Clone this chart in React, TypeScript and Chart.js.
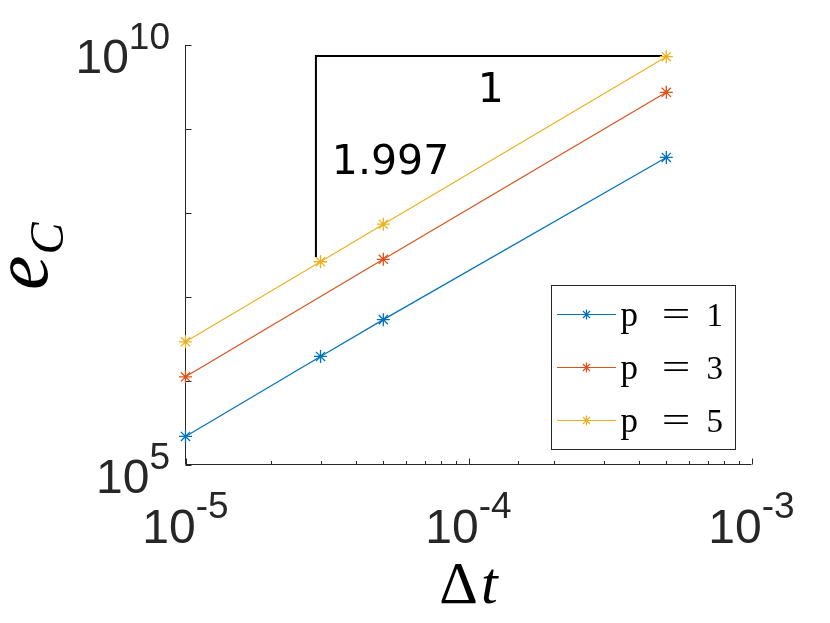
import { useEffect, useRef } from 'react';
import { Chart, registerables } from 'chart.js';

Chart.register(...registerables);

// ---- data ----
const dtValues = [1e-5, 3e-5, 5e-5, 5e-4];
const errP1 = [2.16e5, 1.94e6, 5.33e6, 4.57e8];
const errP3 = [1.11e6, null, 2.79e7, 2.73e9];
const errP5 = [2.9e6, 2.61e7, 7.31e7, 7.25e9];
const seriesNames = ['1', '3', '5'];
const seriesColors = ['#0072BD', '#D95319', '#EDB120'];

// slope triangle (data coordinates)
const triangleDt = [2.89e-5, 2.89e-5, 4.83e-4];
const triangleErr = [2.98e7, 7.39e9, 7.39e9];
const runLabel = '1';
const runLabelPos = [1.2e-4, 2.1e9];
const riseLabel = '1.997';
const riseLabelPos = [3.29e-5, 2.94e8];

// axes
const xRange = [1e-5, 1e-3];
const yRange = [1e5, 1e10];
const xTickValues = [1e-5, 1e-4, 1e-3];
const xTickExponents = ['-5', '-4', '-3'];
const yTickValues = [1e5, 1e10];
const yTickExponents = ['5', '10'];

const AXIS_COLOR = '#262626';

function isDecade(v: number) {
  const l = Math.log10(v);
  return Math.abs(l - Math.round(l)) < 1e-6;
}

function drawStar(ctx: CanvasRenderingContext2D, cx: number, cy: number, r: number) {
  const d = r * Math.SQRT1_2;
  ctx.beginPath();
  ctx.moveTo(cx - r, cy);
  ctx.lineTo(cx + r, cy);
  ctx.moveTo(cx, cy - r);
  ctx.lineTo(cx, cy + r);
  ctx.moveTo(cx - d, cy - d);
  ctx.lineTo(cx + d, cy + d);
  ctx.moveTo(cx - d, cy + d);
  ctx.lineTo(cx + d, cy - d);
  ctx.stroke();
}

const decorPlugin = {
  id: 'decor',
  beforeDatasetsDraw(chart: any) {
    const { ctx, chartArea, scales } = chart;
    const { left, right, top, bottom } = chartArea;
    const x = scales.x;
    const y = scales.y;
    ctx.save();
    ctx.strokeStyle = AXIS_COLOR;
    ctx.lineWidth = 1;
    ctx.beginPath();
    ctx.moveTo(left, top);
    ctx.lineTo(left, bottom);
    ctx.lineTo(right, bottom);
    x.ticks.forEach((t: any) => {
      const px = Math.round(x.getPixelForValue(t.value)) + 0.5;
      const len = isDecade(t.value) ? 6 : 3.5;
      ctx.moveTo(px, bottom);
      ctx.lineTo(px, bottom - len);
    });
    y.ticks.forEach((t: any) => {
      if (!isDecade(t.value)) return;
      const py = Math.round(y.getPixelForValue(t.value)) + 0.5;
      ctx.moveTo(left, py);
      ctx.lineTo(left + 6, py);
    });
    ctx.stroke();
    ctx.restore();
  },
  afterDraw(chart: any) {
    const { ctx, chartArea, scales } = chart;
    const x = scales.x;
    const y = scales.y;
    const baseFont = '48px "Liberation Sans", Arial, sans-serif';
    const supFont = '37px "Liberation Sans", Arial, sans-serif';
    const measure = (t: string, f: string) => {
      ctx.font = f;
      return ctx.measureText(t).width;
    };
    ctx.save();
    ctx.fillStyle = AXIS_COLOR;
    ctx.textBaseline = 'alphabetic';
    ctx.textAlign = 'left';

    // x tick labels
    xTickValues.forEach((v, i) => {
      const px = x.getPixelForValue(v);
      const wb = measure('10', baseFont);
      const ws = measure(xTickExponents[i], supFont);
      const start = px - (wb + ws) / 2;
      ctx.font = baseFont;
      ctx.fillText('10', start, chartArea.bottom + 78.5);
      ctx.font = supFont;
      ctx.fillText(xTickExponents[i], start + wb, chartArea.bottom + 53.5);
    });

    // y tick labels
    yTickValues.forEach((v, i) => {
      const py = y.getPixelForValue(v);
      const wb = measure('10', baseFont);
      const ws = measure(yTickExponents[i], supFont);
      const end = chartArea.left - 15.5;
      ctx.font = baseFont;
      ctx.fillText('10', end - ws - wb, py + 28);
      ctx.font = supFont;
      ctx.fillText(yTickExponents[i], end - ws, py + 4);
    });

    // x axis title: Δt
    ctx.fillStyle = '#000';
    const cx = (chartArea.left + chartArea.right) / 2;
    ctx.font = '60px "Liberation Serif", serif';
    const wD = ctx.measureText('Δ').width;
    ctx.font = 'italic 60px "Liberation Serif", serif';
    const wT = ctx.measureText('t').width;
    const sx = cx - (wD + wT + 3) / 2;
    ctx.font = '60px "Liberation Serif", serif';
    ctx.fillText('Δ', sx, 603);
    ctx.font = 'italic 60px "Liberation Serif", serif';
    ctx.fillText('t', sx + wD + 3, 603);

    // y axis title: e_C (rotated)
    const cy = (chartArea.top + chartArea.bottom) / 2;
    ctx.save();
    ctx.font = 'italic 78px "Liberation Serif", serif';
    const wE = ctx.measureText('e').width;
    ctx.font = 'italic 48px "Liberation Serif", serif';
    const wC = ctx.measureText('C').width;
    ctx.translate(47, cy + (wE + wC) / 2 + 2);
    ctx.rotate(-Math.PI / 2);
    ctx.font = 'italic 78px "Liberation Serif", serif';
    ctx.fillText('e', 0, 0);
    ctx.font = 'italic 48px "Liberation Serif", serif';
    ctx.fillText('C', wE + 1, 16);
    ctx.restore();

    // slope annotation labels
    ctx.font = '41px "DejaVu Sans", sans-serif';
    ctx.textAlign = 'center';
    ctx.fillText(runLabel, x.getPixelForValue(runLabelPos[0]), y.getPixelForValue(runLabelPos[1]));
    ctx.textAlign = 'left';
    ctx.fillText(riseLabel, x.getPixelForValue(riseLabelPos[0]), y.getPixelForValue(riseLabelPos[1]));

    // legend
    const bx = chartArea.right - 200;
    const by = 285.5;
    const bw = 184;
    const bh = 164;
    ctx.fillStyle = '#fff';
    ctx.fillRect(bx, by, bw, bh);
    ctx.strokeStyle = AXIS_COLOR;
    ctx.lineWidth = 1;
    ctx.strokeRect(bx, by, bw, bh);
    seriesNames.forEach((name, i) => {
      const ry = by + 29 + i * 53;
      ctx.strokeStyle = seriesColors[i];
      ctx.lineWidth = 1.2;
      ctx.beginPath();
      ctx.moveTo(bx + 5.5, ry);
      ctx.lineTo(bx + 64.5, ry);
      ctx.stroke();
      drawStar(ctx, bx + 35, ry, 5);
      ctx.fillStyle = '#000';
      ctx.font = '35px "Liberation Serif", serif';
      ctx.textAlign = 'left';
      ctx.fillText('p', bx + 69, ry + 11.7);
      ctx.textAlign = 'center';
      ctx.save();
      ctx.translate(bx + 124.5, ry + 11.7);
      ctx.scale(1.45, 1);
      ctx.fillText('=', 0, 0);
      ctx.restore();
      ctx.textAlign = 'left';
      ctx.font = '33px "Liberation Serif", serif';
      ctx.fillText(name, bx + 155, ry + 11.7);
    });
    ctx.restore();
  },
};

export default function App() {
  const ref = useRef<HTMLCanvasElement>(null);
  useEffect(() => {
    const canvas = ref.current;
    if (!canvas) return;
    const series = [errP5, errP3, errP1];
    const colorIdx = [2, 1, 0];
    const datasets: any[] = series.map((vals, k) => ({
      label: `p = ${seriesNames[colorIdx[k]]}`,
      data: dtValues.map((d, j) => ({ x: d, y: vals[j] })),
      borderColor: seriesColors[colorIdx[k]],
      backgroundColor: seriesColors[colorIdx[k]],
      borderWidth: 1.2,
      pointStyle: 'star',
      pointRadius: 6.5,
      pointBorderWidth: 1.3,
      showLine: true,
      spanGaps: true,
      clip: false,
    }));
    datasets.push({
      label: 'slope',
      data: triangleDt.map((d, j) => ({ x: d, y: triangleErr[j] })),
      borderColor: '#000',
      borderWidth: 2,
      pointRadius: 0,
      showLine: true,
      clip: false,
    });
    const chart = new Chart(canvas, {
      type: 'scatter',
      data: { datasets },
      options: {
        animation: false,
        responsive: false,
        events: [],
        layout: { padding: { left: 185.5, right: 830 - 751.5, top: 45, bottom: 623 - 464.5 } },
        plugins: { legend: { display: false }, tooltip: { enabled: false } },
        scales: {
          x: {
            type: 'logarithmic',
            min: xRange[0],
            max: xRange[1],
            ticks: { display: false },
            grid: { display: false, drawTicks: false },
            border: { display: false },
          },
          y: {
            type: 'logarithmic',
            min: yRange[0],
            max: yRange[1],
            ticks: { display: false },
            grid: { display: false, drawTicks: false },
            border: { display: false },
          },
        },
      },
      plugins: [decorPlugin],
    } as any);
    return () => chart.destroy();
  }, []);
  return (
    <div style={{ position: 'absolute', left: 0, top: 0, width: 830, height: 623, background: '#fff' }}>
      <canvas ref={ref} width={830} height={623} style={{ display: 'block' }} />
    </div>
  );
}
